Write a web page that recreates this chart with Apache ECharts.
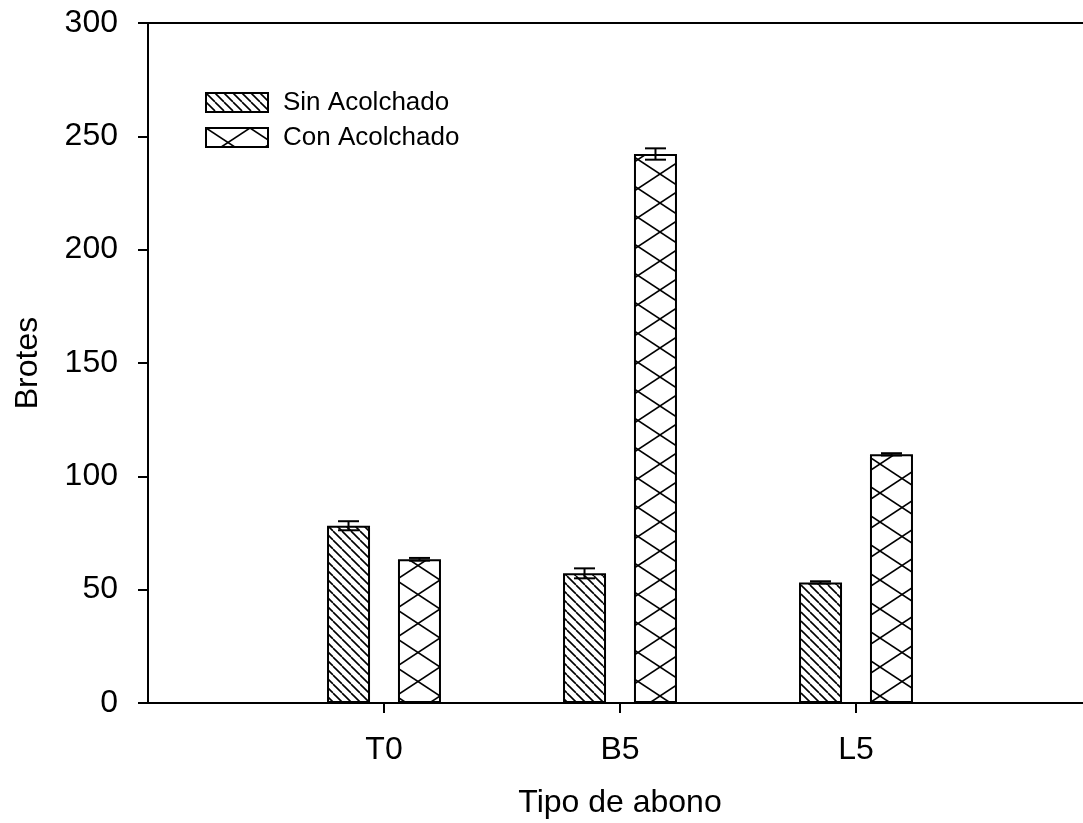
<!DOCTYPE html>
<html>
<head>
<meta charset="utf-8">
<script src="https://cdn.jsdelivr.net/npm/echarts@6/dist/echarts.min.js"></script>
<style>html,body{margin:0;padding:0;background:#fff}#c{width:1083px;height:823px}</style>
</head>
<body>
<div id="c"></div>
<script>
// ---- data ----
const categories = ['', 'T0', 'B5', 'L5', ''];
const seriesNames = ['Sin Acolchado', 'Con Acolchado'];
const sinValues = ['-', 78.2, 57.2, 53.2, '-'];
const sinErrors = [0, 2.0, 2.2, 0.5, 0];
const conValues = ['-', 63.4, 242.2, 109.7, '-'];
const conErrors = [0, 0.6, 2.5, 0.5, 0];
const yTicks = { min: 0, max: 300, interval: 50 };

const FONT = 'Liberation Sans, Arial, sans-serif';
const BAR_W = 43;
const BAR_GAP = 0.65;
const OFFSET = (BAR_W + BAR_W * BAR_GAP) / 2;

function makeDiag() {
  const s = 9, c = document.createElement('canvas');
  c.width = s; c.height = s;
  const g = c.getContext('2d');
  g.fillStyle = '#fff'; g.fillRect(0, 0, s, s);
  g.strokeStyle = '#000'; g.lineWidth = 1.6;
  for (const k of [-s, 0, s]) {
    g.beginPath(); g.moveTo(k, 0); g.lineTo(k + s, s); g.stroke();
  }
  return c;
}
function makeCross() {
  const w = 44, h = 29, c = document.createElement('canvas');
  c.width = w; c.height = h;
  const g = c.getContext('2d');
  g.fillStyle = '#fff'; g.fillRect(0, 0, w, h);
  g.strokeStyle = '#000'; g.lineWidth = 1.6;
  for (const k of [-w, 0, w]) {
    g.beginPath(); g.moveTo(k, 0); g.lineTo(k + w, h); g.stroke();
    g.beginPath(); g.moveTo(k, h); g.lineTo(k + w, 0); g.stroke();
  }
  return c;
}
const diagPattern = { image: makeDiag(), repeat: 'repeat' };
const crossPattern = { image: makeCross(), repeat: 'repeat' };

function errData(vals, errs) {
  const out = [];
  vals.forEach((v, i) => { if (v !== '-') out.push([i, v, errs[i]]); });
  return out;
}
function errRender(sign) {
  return function (params, api) {
    const i = api.value(0), v = api.value(1), e = api.value(2);
    const top = api.coord([i, v + e]);
    const bot = api.coord([i, v - e]);
    const x = top[0] + sign * OFFSET;
    const cap = 10.5;
    const st = { stroke: '#000', lineWidth: 2 };
    return {
      type: 'group',
      children: [
        { type: 'line', shape: { x1: x, y1: top[1], x2: x, y2: bot[1] }, style: st },
        { type: 'line', shape: { x1: x - cap, y1: top[1], x2: x + cap, y2: top[1] }, style: st },
        { type: 'line', shape: { x1: x - cap, y1: bot[1], x2: x + cap, y2: bot[1] }, style: st }
      ]
    };
  };
}

const chart = echarts.init(document.getElementById('c'), null, { renderer: 'canvas' });
chart.setOption({
  animation: false,
  backgroundColor: '#fff',
  textStyle: { fontFamily: FONT },
  grid: { left: 148, top: 23, width: 944, bottom: 120, outerBoundsMode: 'none', containLabel: false,
    show: true, borderColor: '#000', borderWidth: 2, backgroundColor: 'transparent' },
  legend: {
    orient: 'vertical', left: 200, top: 83, itemWidth: 62, itemHeight: 19, itemGap: 6,
    icon: 'rect', data: seriesNames,
    textStyle: { fontSize: 26, lineHeight: 29, color: '#000', fontFamily: FONT, padding: [0, 0, 0, 10] }
  },
  xAxis: {
    type: 'category', data: categories, boundaryGap: false,
    name: 'Tipo de abono', nameLocation: 'middle', nameGap: 84,
    nameTextStyle: { fontSize: 32, color: '#000', fontFamily: FONT },
    axisLine: { lineStyle: { color: '#000', width: 2 } },
    axisTick: { show: true, length: 10, lineStyle: { color: '#000', width: 2 }, interval: (idx) => idx >= 1 && idx <= 3 },
    axisLabel: { fontSize: 32, color: '#000', margin: 31, interval: 0, fontFamily: FONT },
    splitLine: { show: false }
  },
  yAxis: {
    type: 'value', min: yTicks.min, max: yTicks.max, interval: yTicks.interval,
    name: 'Brotes', nameLocation: 'middle', nameGap: 104,
    nameTextStyle: { fontSize: 32, color: '#000', fontFamily: FONT },
    axisLine: { show: true, lineStyle: { color: '#000', width: 2 } },
    axisTick: { show: true, length: 10, lineStyle: { color: '#000', width: 2 } },
    axisLabel: { fontSize: 32, color: '#000', margin: 30, fontFamily: FONT },
    splitLine: { show: false }
  },
  series: [
    { name: seriesNames[0], type: 'bar', data: sinValues, barWidth: BAR_W, barGap: (BAR_GAP * 100) + '%',
      itemStyle: { color: diagPattern, borderColor: '#000', borderWidth: 2 } },
    { name: seriesNames[1], type: 'bar', data: conValues, barWidth: BAR_W,
      itemStyle: { color: crossPattern, borderColor: '#000', borderWidth: 2 } },
    { type: 'custom', data: errData(sinValues, sinErrors), renderItem: errRender(-1), z: 5, silent: true },
    { type: 'custom', data: errData(conValues, conErrors), renderItem: errRender(1), z: 5, silent: true }
  ]
});
</script>
</body>
</html>
